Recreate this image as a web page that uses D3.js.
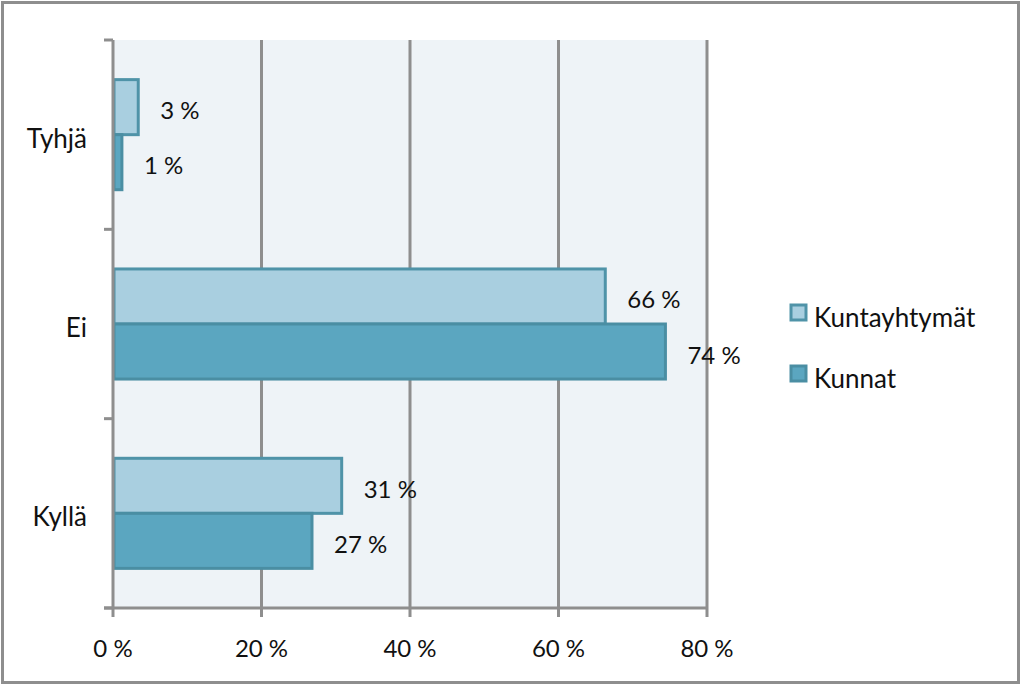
<!DOCTYPE html>
<html>
<head>
<meta charset="utf-8">
<script src="https://cdn.jsdelivr.net/npm/d3@7"></script>
<style>
  body { margin: 0; background: #fff; }
  svg text { font-family: Lato, "Open Sans", sans-serif; fill: #111; }
</style>
</head>
<body>
<svg id="chart" width="1024" height="688"></svg>
<script>
// categories top to bottom
const categories = ["Tyhjä", "Ei", "Kyllä"];
const seriesNames = ["Kuntayhtymät", "Kunnat"];
// values in percent
const kuntayhtymat = [3.4, 66.3, 30.8];
const kunnat = [1.2, 74.4, 26.8];
const xTicks = [0, 20, 40, 60, 80];

const colors = ["#a9cfe0", "#5ba6c0"];
const strokes = ["#4f93a8", "#4a8ea3"];

let svg = d3.select("svg#chart");

// outer frame
svg.append("rect")
    .attr("x", 2.5).attr("y", 2.5)
    .attr("width", 1016).attr("height", 680)
    .attr("fill", "#fff")
    .attr("stroke", "#8e8e8e")
    .attr("stroke-width", 3);

let plot = {left: 113, right: 707, top: 40, bottom: 608};

let x = d3.scaleLinear()
    .domain([0, 80])
    .range([plot.left, plot.right]);

let y = d3.scaleBand()
    .domain(categories)
    .range([plot.top, plot.bottom]);

let inner = d3.scaleBand()
    .domain(seriesNames)
    .range([0, y.bandwidth()])
    .paddingOuter(0.72)
    .paddingInner(0);

// plot background
svg.append("rect")
    .attr("x", plot.left).attr("y", plot.top)
    .attr("width", plot.right - plot.left)
    .attr("height", plot.bottom - plot.top)
    .attr("fill", "#eef3f7");

// grid lines
svg.selectAll("line.grid")
    .data(xTicks.slice(1))
    .join("line")
    .attr("class", "grid")
    .attr("x1", d => x(d)).attr("x2", d => x(d))
    .attr("y1", plot.top).attr("y2", plot.bottom + 9)
    .attr("stroke", "#8e8e8e")
    .attr("stroke-width", 3);

// bars
let rows = [];
categories.forEach((c, i) => {
    rows.push({cat: c, s: 0, v: kuntayhtymat[i]});
    rows.push({cat: c, s: 1, v: kunnat[i]});
});

svg.selectAll("rect.bar")
    .data(rows)
    .join("rect")
    .attr("class", "bar")
    .attr("x", x(0) + 1)
    .attr("y", d => y(d.cat) + inner(seriesNames[d.s]))
    .attr("width", d => x(d.v) - x(0) - 1)
    .attr("height", inner.bandwidth())
    .attr("fill", d => colors[d.s])
    .attr("stroke", d => strokes[d.s])
    .attr("stroke-width", 3);

// value labels
svg.selectAll("text.val")
    .data(rows)
    .join("text")
    .attr("class", "val")
    .attr("x", d => x(d.v) + 22)
    .attr("y", d => y(d.cat) + inner(seriesNames[d.s]) + inner.bandwidth() / 2 + 12)
    .attr("font-size", 24)
    .text(d => Math.round(d.v) + " %");

// y axis line and ticks
svg.append("line")
    .attr("x1", plot.left).attr("x2", plot.left)
    .attr("y1", plot.top).attr("y2", plot.bottom)
    .attr("stroke", "#8e8e8e").attr("stroke-width", 3);

let yEdges = categories.map(c => y(c)).concat([plot.bottom]);
svg.selectAll("line.ytick")
    .data(yEdges)
    .join("line")
    .attr("class", "ytick")
    .attr("x1", plot.left - 9).attr("x2", plot.left)
    .attr("y1", d => d).attr("y2", d => d)
    .attr("stroke", "#8e8e8e").attr("stroke-width", 3);

svg.selectAll("text.cat")
    .data(categories)
    .join("text")
    .attr("class", "cat")
    .attr("x", 87)
    .attr("y", d => y(d) + y.bandwidth() / 2 + 13)
    .attr("text-anchor", "end")
    .attr("font-size", 26)
    .text(d => d);

// x axis
svg.append("line")
    .attr("x1", plot.left - 9).attr("x2", plot.right)
    .attr("y1", plot.bottom).attr("y2", plot.bottom)
    .attr("stroke", "#8e8e8e").attr("stroke-width", 3);

svg.append("line")
    .attr("x1", x(0)).attr("x2", x(0))
    .attr("y1", plot.bottom).attr("y2", plot.bottom + 9)
    .attr("stroke", "#8e8e8e").attr("stroke-width", 3);

svg.selectAll("text.xt")
    .data(xTicks)
    .join("text")
    .attr("class", "xt")
    .attr("x", d => x(d))
    .attr("y", 657)
    .attr("text-anchor", "middle")
    .attr("font-size", 24)
    .text(d => d + " %");

// legend
let legend = svg.append("g");
seriesNames.forEach((s, i) => {
    let ly = 305 + i * 61;
    legend.append("rect")
        .attr("x", 791).attr("y", ly)
        .attr("width", 15).attr("height", 15)
        .attr("fill", colors[i])
        .attr("stroke", strokes[i])
        .attr("stroke-width", 3);
    legend.append("text")
        .attr("x", 814).attr("y", ly + 22)
        .attr("font-size", 26)
        .text(s);
});
</script>
</body>
</html>
